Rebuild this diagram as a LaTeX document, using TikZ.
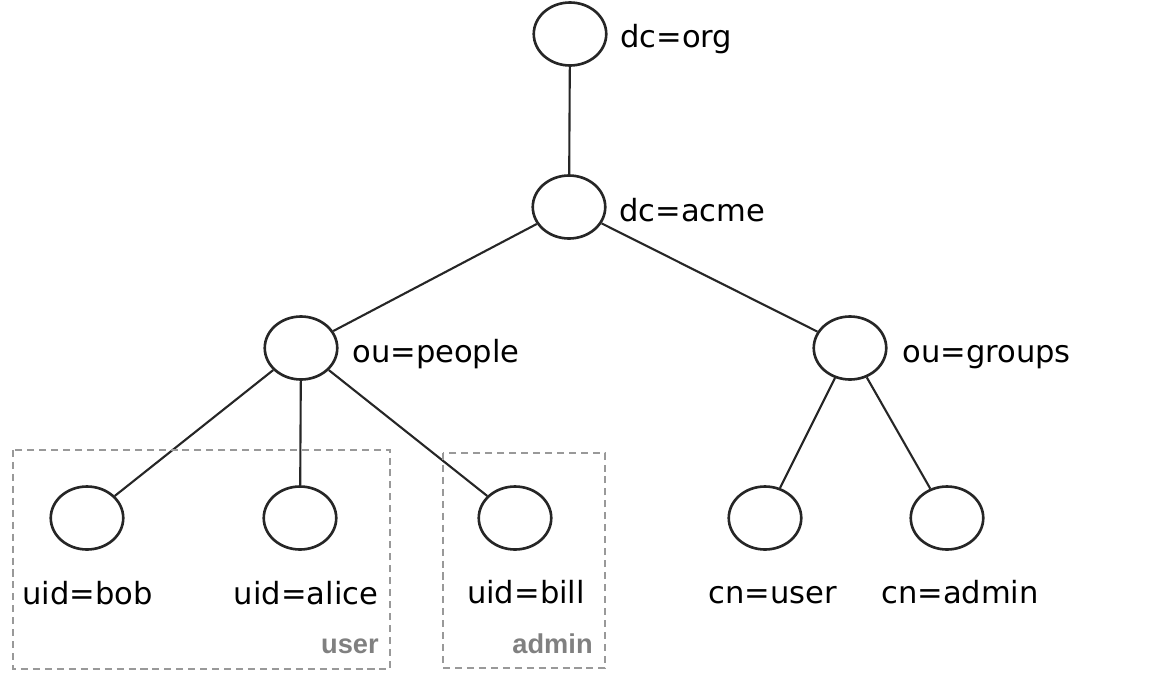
\documentclass[tikz,border=0pt]{standalone}
\usepackage{fontspec}
\setmainfont{DejaVu Sans}
\newfontfamily\grpfont{Liberation Sans}
\usetikzlibrary{shapes.geometric}

\begin{document}
\begin{tikzpicture}[x=0.02cm,y=-0.02cm,
  entry/.style={draw=black!85,line width=1.5pt,ellipse,minimum width=1.45cm,minimum height=1.26cm,inner sep=0pt},
  rdn/.style={font=\fontsize{17.4}{20}\selectfont,inner sep=0pt},
  grp/.style={font=\grpfont\fontsize{15.5}{18}\selectfont\bfseries,text=black!50,inner sep=0pt,anchor=base east},
  link/.style={draw=black!85,line width=1.2pt},
  groupbox/.style={draw=black!40,line width=1.1pt,dash pattern=on 4pt off 2.8pt}]
  \useasboundingbox (0,0) rectangle (1162,690);
  % directory tree
  \node[entry] (org) at (570,34) {};
  \node[entry] (acme) at (569,207) {};
  \node[entry] (people) at (301,348) {};
  \node[entry] (groups) at (850,348) {};
  \node[entry] (bob) at (87,518) {};
  \node[entry] (alice) at (300,518) {};
  \node[entry] (bill) at (515,518) {};
  \node[entry] (cnuser) at (765,518) {};
  \node[entry] (cnadmin) at (947,518) {};
  \node[rdn,anchor=base west] (orglbl) at (620,47) {dc=org};
  \node[rdn,anchor=base west] (acmelbl) at (619,221) {dc=acme};
  \node[rdn,anchor=base west] (peoplelbl) at (352,362) {ou=people};
  \node[rdn,anchor=base west] (groupslbl) at (902,362) {ou=groups};
  \node[rdn,anchor=base] (boblbl) at (87.5,604) {uid=bob};
  \node[rdn,anchor=base] (alicelbl) at (306,604) {uid=alice};
  \node[rdn,anchor=base] (billlbl) at (526,603) {uid=bill};
  \node[rdn,anchor=base] (cnuserlbl) at (773,603) {cn=user};
  \node[rdn,anchor=base] (cnadminlbl) at (960,603) {cn=admin};
  \draw[link] (org) -- (acme);
  \draw[link] (acme) -- (people);
  \draw[link] (acme) -- (groups);
  \draw[link] (people) -- (bob);
  \draw[link] (people) -- (alice);
  \draw[link] (people) -- (bill);
  \draw[link] (groups) -- (cnuser);
  \draw[link] (groups) -- (cnadmin);
  % group membership
  \draw[groupbox] (13,450) rectangle (390,669);
  \draw[groupbox] (443,453) rectangle (605,668);
  \node[grp] (usergrp) at (379,653) {user};
  \node[grp] (admingrp) at (593,653) {admin};
\end{tikzpicture}
\end{document}
